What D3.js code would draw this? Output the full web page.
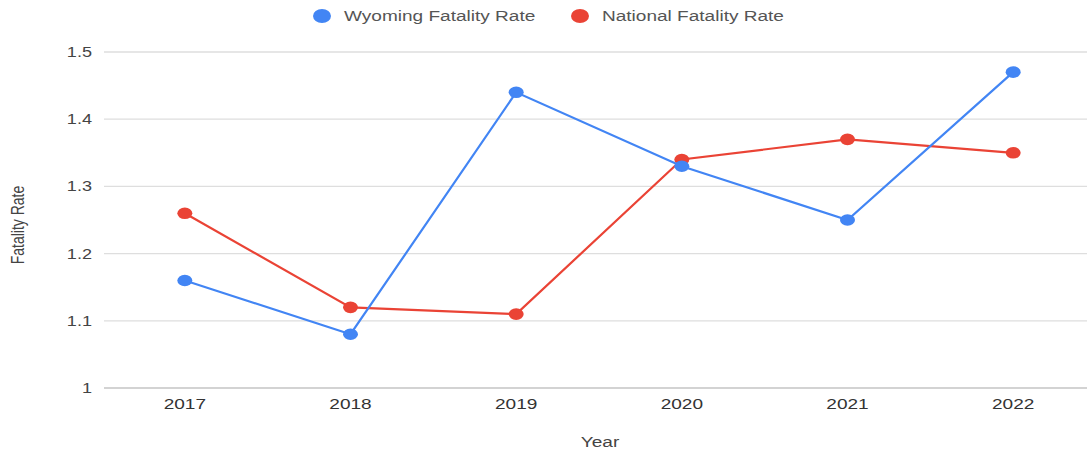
<!DOCTYPE html>
<html>
<head>
<meta charset="utf-8">
<script src="https://cdn.jsdelivr.net/npm/d3@7"></script>
<style>
  body { margin: 0; background: #fff; }
  text { font-family: Arial, "Liberation Sans", sans-serif; }
</style>
</head>
<body>
<div id="chart"></div>
<script>
// Data
const years = ["2017", "2018", "2019", "2020", "2021", "2022"];
const wyomingRate = [1.16, 1.08, 1.44, 1.33, 1.25, 1.47];
const nationalRate = [1.26, 1.12, 1.11, 1.34, 1.37, 1.35];
const yTicks = [1, 1.1, 1.2, 1.3, 1.4, 1.5];

const width = 1087;
const height = 453;
const margin = { top: 52, right: -9, bottom: 65, left: 102 };
// the source picture is stretched sideways, so text and dots are too
const sx = 1.36;

const svg = d3.select("#chart")
    .append("svg")
    .attr("width", width)
    .attr("height", height);

const x = d3.scalePoint()
    .domain(years)
    .range([margin.left, width - margin.right])
    .padding(0.5);

const y = d3.scaleLinear()
    .domain([1, 1.5])
    .range([height - margin.bottom, margin.top]);

// Gridlines
svg.append("g")
    .selectAll("line")
    .data(yTicks)
    .enter().append("line")
    .attr("x1", 104)
    .attr("x2", width)
    .attr("y1", d => y(d))
    .attr("y2", d => y(d))
    .attr("stroke", d => d === 1 ? "#c4c4c4" : "#dedede")
    .attr("stroke-width", 1.3);

// Y tick labels
svg.append("g")
    .selectAll("text")
    .data(yTicks)
    .enter().append("text")
    .attr("transform", d => `translate(92,${y(d)}) scale(${sx * 0.95},1)`)
    .attr("dy", "0.35em")
    .attr("text-anchor", "end")
    .attr("font-size", "14px")
    .attr("fill", "#444")
    .text(d => d3.format("")(d));

// X tick labels
svg.append("g")
    .selectAll("text")
    .data(years)
    .enter().append("text")
    .attr("transform", d => `translate(${x(d)},409) scale(${sx},1)`)
    .attr("text-anchor", "middle")
    .attr("font-size", "14px")
    .attr("fill", "#333")
    .text(d => d);

// Axis titles
svg.append("text")
    .attr("transform", `translate(600,447) scale(${sx},1)`)
    .attr("text-anchor", "middle")
    .attr("font-size", "14px")
    .attr("fill", "#444")
    .text("Year");

svg.append("text")
    .attr("transform", `translate(24,225) scale(${sx},1) rotate(-90)`)
    .attr("text-anchor", "middle")
    .attr("font-size", "14px")
    .attr("fill", "#444")
    .text("Fatality Rate");

// Series
const series = [
    { name: "Wyoming Fatality Rate", values: wyomingRate, color: "#4285F4" },
    { name: "National Fatality Rate", values: nationalRate, color: "#EA4335" }
];

const line = d3.line()
    .x((d, i) => x(years[i]))
    .y(d => y(d));

// draw national first so wyoming sits on top where they cross
[series[1], series[0]].forEach(s => {
    svg.append("path")
        .datum(s.values)
        .attr("fill", "none")
        .attr("stroke", s.color)
        .attr("stroke-width", 2.2)
        .attr("d", line);

    svg.append("g")
        .selectAll("ellipse")
        .data(s.values)
        .enter().append("ellipse")
        .attr("cx", (d, i) => x(years[i]))
        .attr("cy", d => y(d))
        .attr("rx", 7.5)
        .attr("ry", 5.8)
        .attr("fill", s.color);
});

// Legend
const legendPos = [322, 580];
const legend = svg.append("g")
    .selectAll("g")
    .data(series)
    .enter().append("g")
    .attr("transform", (d, i) => `translate(${legendPos[i]},16)`);

legend.append("ellipse")
    .attr("rx", 9)
    .attr("ry", 7)
    .attr("fill", d => d.color);

legend.append("text")
    .attr("transform", `translate(22,0) scale(${sx},1)`)
    .attr("dy", "0.35em")
    .attr("font-size", "14px")
    .attr("fill", "#555")
    .text(d => d.name);
</script>
</body>
</html>
